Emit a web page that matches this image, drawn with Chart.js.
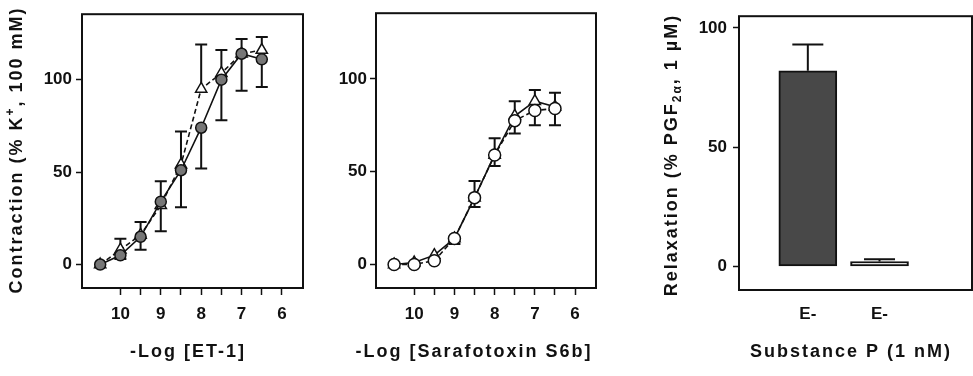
<!DOCTYPE html>
<html>
<head>
<meta charset="utf-8">
<script src="https://cdn.jsdelivr.net/npm/chart.js@4.4.1/dist/chart.umd.min.js"></script>
<style>
  html, body { margin: 0; padding: 0; background: #fff; }
  #wrap { position: relative; width: 973px; height: 376px; overflow: hidden; }
  #wrap canvas { position: absolute; top: 0; }
</style>
</head>
<body>
<div id="wrap">
  <canvas id="et1" width="325" height="376" style="left:0"></canvas>
  <canvas id="s6b" width="305" height="376" style="left:325px"></canvas>
  <canvas id="subp" width="343" height="376" style="left:630px"></canvas>
</div>
<script>
// concentrations as -log [M], shared by both concentration-response panels
const logDose = [10.5, 10, 9.5, 9, 8.5, 8, 7.5, 7, 6.5];
const doseTicks = [10, 9.5, 9, 8.5, 8, 7.5, 7, 6.5, 6];
const doseLabels = [10, 9, 8, 7, 6];
const responseTicks = [0, 50, 100];

// ET-1 (% K+ contraction); error bars drawn one-sided
const et1Circle = [0, 5, 15, 34, 51, 74, 100, 114, 111];
const et1CircleErrDown = [0, 2, 7, 16, 20, 22, 22, 20, 15];
const et1Triangle = [0, 8, 16, 32, 54, 95, 103.5, 114, 116];
const et1TriangleErrUp = [0, 6, 7, 13, 18, 24, 12.5, 8, 7];

// sarafotoxin S6b
const s6bCircle = [0, 0, 2, 14, 36, 59, 77.5, 83, 84];
const s6bCircleErrDown = [0, 0, 0, 3, 5, 6, 7, 8, 9];
const s6bTriangle = [0, 1, 5, 14, 36, 59, 80, 88, 85];
const s6bTriangleErrUp = [0, 0, 0, 0, 9, 9, 8, 6, 7.5];

// substance P relaxation (% PGF2a)
const spLabels = ['E-', 'E-'];
const spPositions = [1, 2];
const spValues = [82, 2];
const spErrUp = [11, 1];
const relaxTicks = [0, 50, 100];

const INK = '#111';
const tickFont = { family: '"Liberation Sans", Arial, sans-serif', size: 17, weight: 'bold' };

// box around the plot area
const frame = {
  id: 'frame',
  beforeDatasetsDraw(chart) {
    const { ctx, chartArea: a } = chart;
    ctx.save();
    ctx.strokeStyle = INK;
    ctx.lineWidth = 2;
    ctx.strokeRect(a.left, a.top, a.right - a.left, a.bottom - a.top);
    ctx.restore();
  }
};

// vertical error bars, dataset.errUp / dataset.errDown in data units
const errorBars = {
  id: 'errorBars',
  beforeDatasetsDraw(chart) {
    const ctx = chart.ctx;
    const ys = chart.scales.y;
    chart.data.datasets.forEach((ds, i) => {
      if (!ds.errUp && !ds.errDown) return;
      const meta = chart.getDatasetMeta(i);
      const cap = ds.capWidth || 12;
      ctx.save();
      ctx.strokeStyle = INK;
      ctx.lineWidth = 2;
      ds.data.forEach((d, j) => {
        const v = typeof d === 'number' ? d : d.y;
        const up = ds.errUp ? ds.errUp[j] : 0;
        const down = ds.errDown ? ds.errDown[j] : 0;
        if (!up && !down) return;
        const x = meta.data[j].x;
        const yTop = ys.getPixelForValue(v + up);
        const yBot = ys.getPixelForValue(v - down);
        ctx.beginPath();
        ctx.moveTo(x, yTop);
        ctx.lineTo(x, yBot);
        if (up) { ctx.moveTo(x - cap / 2, yTop); ctx.lineTo(x + cap / 2, yTop); }
        if (down) { ctx.moveTo(x - cap / 2, yBot); ctx.lineTo(x + cap / 2, yBot); }
        ctx.stroke();
      });
      ctx.restore();
    });
  }
};

// axis titles drawn as text runs so sub/superscripts can be mixed in
const titleText = {
  id: 'titleText',
  afterDraw(chart, args, opts) {
    const ctx = chart.ctx;
    (opts.items || []).forEach(it => {
      const parts = it.parts.map(p => (typeof p === 'string' ? { t: p } : p));
      ctx.save();
      ctx.translate(it.x, it.y);
      if (it.rotate) ctx.rotate(-Math.PI / 2);
      ctx.fillStyle = INK;
      ctx.textBaseline = 'middle';
      ctx.letterSpacing = '2px';
      let total = 0;
      parts.forEach(p => {
        ctx.font = `bold ${p.size || 18}px "Liberation Sans", Arial, sans-serif`;
        p.w = ctx.measureText(p.t).width;
        total += p.w;
      });
      let cx = -total / 2;
      parts.forEach(p => {
        ctx.font = `bold ${p.size || 18}px "Liberation Sans", Arial, sans-serif`;
        ctx.fillText(p.t, cx, p.dy || 0);
        cx += p.w;
      });
      ctx.restore();
    });
  }
};

const pts = vals => logDose.map((x, i) => ({ x, y: vals[i] }));

function yScale(width, pad, ticks, min, max) {
  return {
    min, max,
    afterBuildTicks: s => { s.ticks = ticks.map(v => ({ value: v })); },
    afterFit: s => { s.width = width; },
    border: { display: false },
    grid: { drawOnChartArea: false, tickLength: 6, tickColor: INK, tickWidth: 1.5 },
    ticks: { font: tickFont, color: INK, padding: pad }
  };
}

function doseChart(id, datasets, yWidth, yPad, top, right, titles) {
  return new Chart(document.getElementById(id), {
    type: 'scatter',
    data: { datasets },
    options: {
      responsive: false,
      animation: false,
      layout: { padding: { top, right, left: 0, bottom: 0 } },
      plugins: { legend: { display: false }, tooltip: { enabled: false }, titleText: { items: titles } },
      scales: {
        x: {
          type: 'linear', reverse: true, min: 5.48, max: 10.95,
          afterBuildTicks: s => { s.ticks = doseTicks.map(v => ({ value: v })); },
          afterFit: s => { s.height = 88; },
          border: { display: false },
          grid: { drawOnChartArea: false, tickLength: 7, tickColor: INK, tickWidth: 1.5 },
          ticks: {
            font: tickFont, color: INK, padding: 9, autoSkip: false, maxRotation: 0,
            callback: v => (doseLabels.includes(v) ? String(v) : '')
          }
        },
        y: yScale(yWidth, yPad, responseTicks, -12.7, 135.4)
      }
    },
    plugins: [frame, errorBars, titleText]
  });
}

const lineBase = { showLine: true, borderColor: INK, borderWidth: 1.6, pointBorderColor: INK, pointBorderWidth: 1.5 };

doseChart('et1', [
  Object.assign({}, lineBase, {
    data: pts(et1Circle), errDown: et1CircleErrDown, order: 0,
    pointStyle: 'circle', pointRadius: 5.5, pointBackgroundColor: '#767676'
  }),
  Object.assign({}, lineBase, {
    data: pts(et1Triangle), errUp: et1TriangleErrUp, order: 1, borderDash: [5, 3],
    pointStyle: 'triangle', pointRadius: 6.5, pointBackgroundColor: '#fff'
  })
], 82, 4, 8, 22, [
  { x: 17, y: 150, rotate: true, parts: ['Contraction (% K', { t: '+', size: 12, dy: -6 }, ', 100 mM)'] },
  { x: 188, y: 352, parts: ['-Log [ET-1]'] }
]);

doseChart('s6b', [
  Object.assign({}, lineBase, {
    data: pts(s6bCircle), errDown: s6bCircleErrDown, order: 0, borderDash: [5, 3],
    pointStyle: 'circle', pointRadius: 6, pointBackgroundColor: '#fff'
  }),
  Object.assign({}, lineBase, {
    data: pts(s6bTriangle), errUp: s6bTriangleErrUp, order: 1,
    pointStyle: 'triangle', pointRadius: 6.5, pointBackgroundColor: '#fff'
  })
], 51, 3, 9, 34, [
  { x: 474 - 325, y: 352, parts: ['-Log [Sarafotoxin S6b]'] }
]);

new Chart(document.getElementById('subp'), {
  type: 'bar',
  data: {
    datasets: [{
      data: spPositions.map((x, i) => ({ x, y: spValues[i] })),
      errUp: spErrUp, capWidth: 31,
      backgroundColor: ['#484848', '#ffffff'],
      borderColor: INK, borderWidth: 2, borderSkipped: false,
      barThickness: 58
    }]
  },
  options: {
    responsive: false,
    animation: false,
    layout: { padding: { top: 11, right: 1, left: 0, bottom: 0 } },
    plugins: {
      legend: { display: false }, tooltip: { enabled: false },
      titleText: {
        items: [
          { x: 672 - 630, y: 155, rotate: true,
            parts: ['Relaxation (% PGF', { t: '2\u03b1', size: 12, dy: 6 }, ', 1 \u00b5M)'] },
          { x: 851 - 630, y: 352, parts: ['Substance P (1 nM)'] }
        ]
      }
    },
    scales: {
      x: {
        type: 'linear', min: 0.04, max: 3.29, offset: false,
        afterBuildTicks: s => { s.ticks = spPositions.map(v => ({ value: v })); },
        afterFit: s => { s.height = 86; },
        border: { display: false },
        grid: { display: false, offset: false },
        ticks: { font: tickFont, color: INK, padding: 6, autoSkip: false, maxRotation: 0,
          callback: (v, i) => spLabels[i] }
      },
      y: yScale(109, 6, relaxTicks, -9.9, 104.9)
    }
  },
  plugins: [frame, errorBars, titleText]
});
</script>
</body>
</html>
